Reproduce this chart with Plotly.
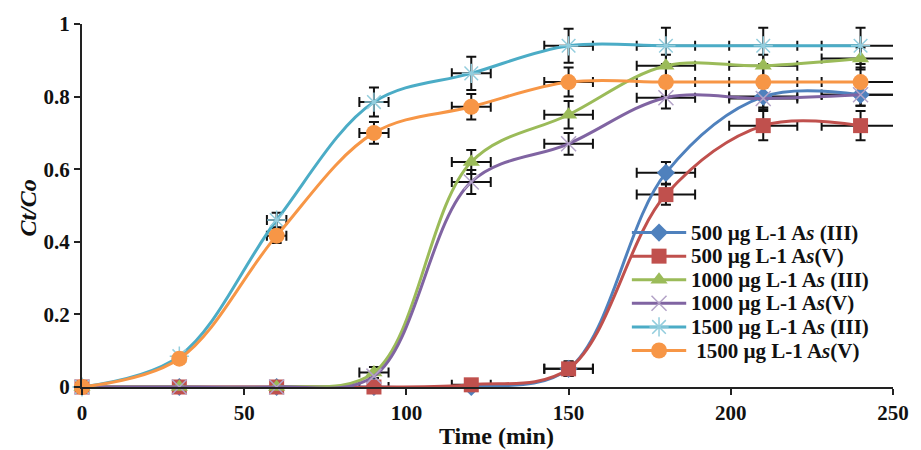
import plotly.graph_objects as go

# Sampling times (min)
time_min = [0, 30, 60, 90, 120, 150, 180, 210, 240]

# Ct/Co breakthrough values for each feed
as3_500 = [0, 0, 0, 0, 0, 0.05, 0.59, 0.80, 0.805]
as5_500 = [0, 0, 0, 0, 0.006, 0.05, 0.53, 0.72, 0.72]
as3_1000 = [0, 0, 0, 0.04, 0.62, 0.75, 0.885, 0.885, 0.905]
as5_1000 = [0, 0, 0, 0.03, 0.565, 0.67, 0.797, 0.795, 0.805]
as3_1500 = [0, 0.085, 0.46, 0.785, 0.864, 0.94, 0.94, 0.94, 0.94]
as5_1500 = [0, 0.078, 0.417, 0.70, 0.772, 0.84, 0.84, 0.84, 0.84]

# Error estimates (0 = no bar drawn); time errors in min
ex_500_3 = [0, 0, 0, 0, 0, 7.5, 9, 10.5, 12]
ey_500_3 = [0, 0, 0, 0, 0, 0.02, 0.03, 0.03, 0.03]
ex_500_5 = [0, 0, 0, 4.5, 6, 7.5, 9, 10.5, 12]
ey_500_5 = [0, 0, 0, 0.01, 0.01, 0.02, 0.028, 0.04, 0.04]
ex_1000_3 = [0, 0, 0, 4.5, 6, 7.5, 9, 10.5, 12]
ey_1000_3 = [0, 0, 0, 0.015, 0.033, 0.038, 0.03, 0.03, 0.03]
ex_1000_5 = [0, 0, 0, 0, 6, 7.5, 9, 10.5, 12]
ey_1000_5 = [0, 0, 0, 0, 0.033, 0.03, 0.03, 0.03, 0.03]
ex_1500_3 = [0, 0, 3, 4.5, 6, 7.5, 9, 10.5, 12]
ey_1500_3 = [0, 0, 0.02, 0.04, 0.046, 0.047, 0.05, 0.05, 0.05]
ex_1500_5 = [0, 0, 3, 4.5, 6, 7.5, 9, 10.5, 12]
ey_1500_5 = [0, 0, 0.02, 0.03, 0.035, 0.04, 0.04, 0.04, 0.04]

names = [
    "500 µg L-1 A<i>s</i> (III)",
    "500 µg L-1 A<i>s</i>(V)",
    "1000 µg L-1 A<i>s</i> (III)",
    "1000 µg L-1 A<i>s</i>(V)",
    "1500 µg L-1 A<i>s</i> (III)",
    " 1500 µg L-1 A<i>s</i>(V)",
]
series = [as3_500, as5_500, as3_1000, as5_1000, as3_1500, as5_1500]
xerrs = [ex_500_3, ex_500_5, ex_1000_3, ex_1000_5, ex_1500_3, ex_1500_5]
yerrs = [ey_500_3, ey_500_5, ey_1000_3, ey_1000_5, ey_1500_3, ey_1500_5]

line_colors = ["#4F81BD", "#C0504D", "#9BBB59", "#8064A2", "#4BACC6", "#F79646"]
markers = [
    dict(symbol="diamond", size=14, color="#4F81BD"),
    dict(symbol="square", size=15, color="#C0504D"),
    dict(symbol="triangle-up", size=15, color="#9BBB59"),
    dict(symbol="x-thin-open", size=15, color="#B3A2C7", line=dict(width=1.5, color="#B3A2C7")),
    dict(symbol="asterisk-open", size=16, color="#93CDDD", line=dict(width=1.5, color="#93CDDD")),
    dict(symbol="circle", size=16, color="#F79646"),
]

serif = "Liberation Serif"
ink = "#111111"
fig = go.Figure()

# Error bars, only on points that carry one (clipped to the plot area)
for ys, exs, eys in zip(series, xerrs, yerrs):
    idx = [i for i in range(len(time_min)) if exs[i] > 0 or eys[i] > 0]
    fig.add_trace(go.Scatter(
        x=[time_min[i] for i in idx], y=[ys[i] for i in idx],
        mode="markers", marker=dict(size=1, opacity=0),
        showlegend=False, hoverinfo="skip", cliponaxis=True,
        error_x=dict(type="data", array=[exs[i] for i in idx], color=ink,
                     thickness=2, width=5),
        error_y=dict(type="data", array=[eys[i] for i in idx], color=ink,
                     thickness=2, width=5),
    ))

for name, ys, lc, mk in zip(names, series, line_colors, markers):
    fig.add_trace(go.Scatter(
        x=time_min, y=ys, name=name, mode="lines+markers",
        line=dict(color=lc, width=3, shape="spline", smoothing=1),
        marker=mk, cliponaxis=False, showlegend=False,
    ))

# Key drawn on an overlay axis spanning the plot area (0..1 both ways)
key_x0, key_x1, key_text_x = 0.678, 0.745, 0.749
key_top, key_step = 0.4255, 0.065
annotations = []
for k, (name, lc, mk) in enumerate(zip(names, line_colors, markers)):
    ky = key_top - k * key_step
    fig.add_trace(go.Scatter(
        x=[key_x0, (key_x0 + key_x1) / 2, key_x1], y=[ky, ky, ky],
        xaxis="x2", yaxis="y2", mode="lines+markers",
        line=dict(color=lc, width=3), marker=mk,
        selectedpoints=[1], unselected=dict(marker=dict(opacity=0)),
        showlegend=False, hoverinfo="skip", cliponaxis=False,
    ))
    annotations.append(dict(
        text="<b>" + name + "</b>", xref="paper", yref="paper",
        x=key_text_x, y=ky, xanchor="left", yanchor="middle",
        showarrow=False, font=dict(family=serif, size=21, color=ink),
    ))

annotations += [
    dict(text="<b>Time (min)</b>", xref="paper", yref="paper",
         x=(501 - 82) / 820, y=-(437 - 387) / 369, xanchor="center", yanchor="middle",
         showarrow=False, font=dict(family=serif, size=24, color=ink)),
    dict(text="<b><i>Ct/Co</i></b>", xref="paper", yref="paper",
         x=-(82 - 27) / 820, y=(387 - 205) / 369, xanchor="center", yanchor="middle",
         textangle=-90, showarrow=False,
         font=dict(family=serif, size=24, color=ink)),
]

tick_font = dict(family=serif, size=21, color=ink)
fig.update_layout(
    width=921, height=450,
    margin=dict(l=82, r=19, t=18, b=63),
    paper_bgcolor="white", plot_bgcolor="white",
    font=dict(family=serif, size=18, color=ink),
    showlegend=False,
    xaxis=dict(
        range=[0, 250], tickvals=[0, 50, 100, 150, 200, 250],
        ticktext=["<b>%d</b>" % v for v in [0, 50, 100, 150, 200, 250]],
        showline=True, linecolor="#222222", linewidth=2,
        ticks="outside", ticklen=6, tickwidth=2, tickcolor="#222222",
        showgrid=False, zeroline=False, tickfont=tick_font,
    ),
    yaxis=dict(
        range=[0, 1], tickvals=[0, 0.2, 0.4, 0.6, 0.8, 1],
        ticktext=["<b>0</b>", "<b>0.2</b>", "<b>0.4</b>", "<b>0.6</b>", "<b>0.8</b>", "<b>1</b>"],
        showline=True, linecolor="#222222", linewidth=2,
        ticks="outside", ticklen=6, tickwidth=2, tickcolor="#222222",
        showgrid=False, zeroline=False, tickfont=tick_font,
    ),
    xaxis2=dict(overlaying="x", range=[0, 1], visible=False, fixedrange=True),
    yaxis2=dict(overlaying="y", range=[0, 1], visible=False, fixedrange=True),
    annotations=annotations,
)

fig.write_html("out.html")
